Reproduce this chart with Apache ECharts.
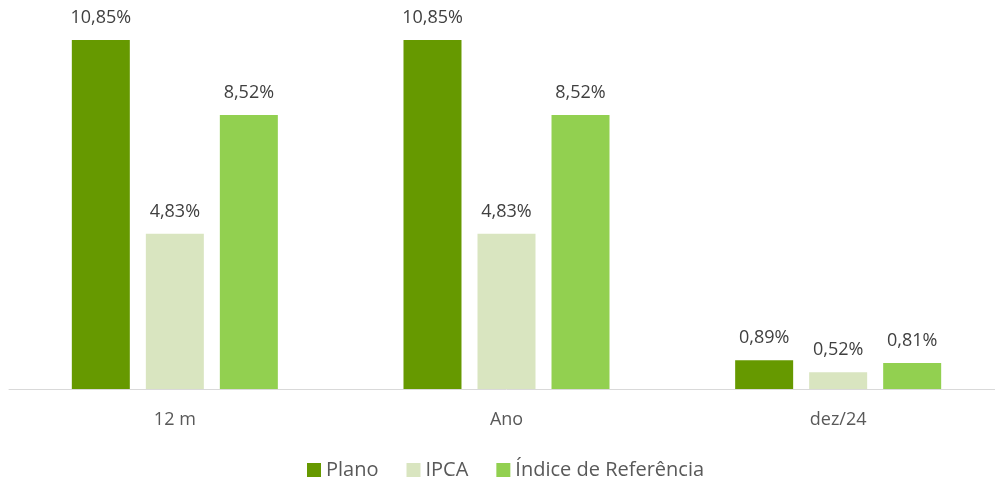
<!DOCTYPE html>
<html><head><meta charset="utf-8">
<script src="https://cdn.jsdelivr.net/npm/echarts@6/dist/echarts.min.js"></script>
<style>html,body{margin:0;padding:0;background:#fff;overflow:hidden}#c{width:1004px;height:486px}</style>
</head><body><div id="c"></div>
<script>
const categories = ['12 m', 'Ano', 'dez/24'];
const plano = [10.85, 10.85, 0.89];
const ipca = [4.83, 4.83, 0.52];
const indice = [8.52, 8.52, 0.81];
const seriesNames = ['Plano', 'IPCA', 'Índice de Referência'];
const colors = ['#669900', '#D9E5C0', '#92D050'];
const FONT = 'Open Sans';
const fmt = p => p.value.toFixed(2).replace('.', ',') + '%';
const mk = (name, data, color) => ({
  name, type: 'bar', data, barWidth: 58, barGap: '27.6%',
  itemStyle: { color },
  label: { show: true, position: 'top', distance: 13, formatter: fmt,
    color: '#404040', fontSize: 18, fontFamily: FONT },
  emphasis: { disabled: true }
});
const chart = echarts.init(document.getElementById('c'));
chart.setOption({
  animation: false,
  textStyle: { fontFamily: FONT },
  color: colors,
  grid: { left: 9, right: 0, top: 3, height: 386, containLabel: false },
  legend: {
    data: seriesNames, left: 307, top: 460, padding: 0, itemWidth: 14, itemHeight: 14, itemGap: 28,
    icon: 'rect',
    textStyle: { color: '#595959', fontSize: 20, fontFamily: FONT }
  },
  xAxis: {
    type: 'category', data: categories,
    axisLine: { lineStyle: { color: '#D9D9D9', width: 1 } },
    axisTick: { show: false },
    axisLabel: { color: '#595959', fontSize: 18, margin: 22, fontFamily: FONT }
  },
  yAxis: { type: 'value', min: 0, max: 12, show: false, splitLine: { show: false } },
  series: [mk(seriesNames[0], plano, colors[0]), mk(seriesNames[1], ipca, colors[1]), mk(seriesNames[2], indice, colors[2])]
});
</script></body></html>
